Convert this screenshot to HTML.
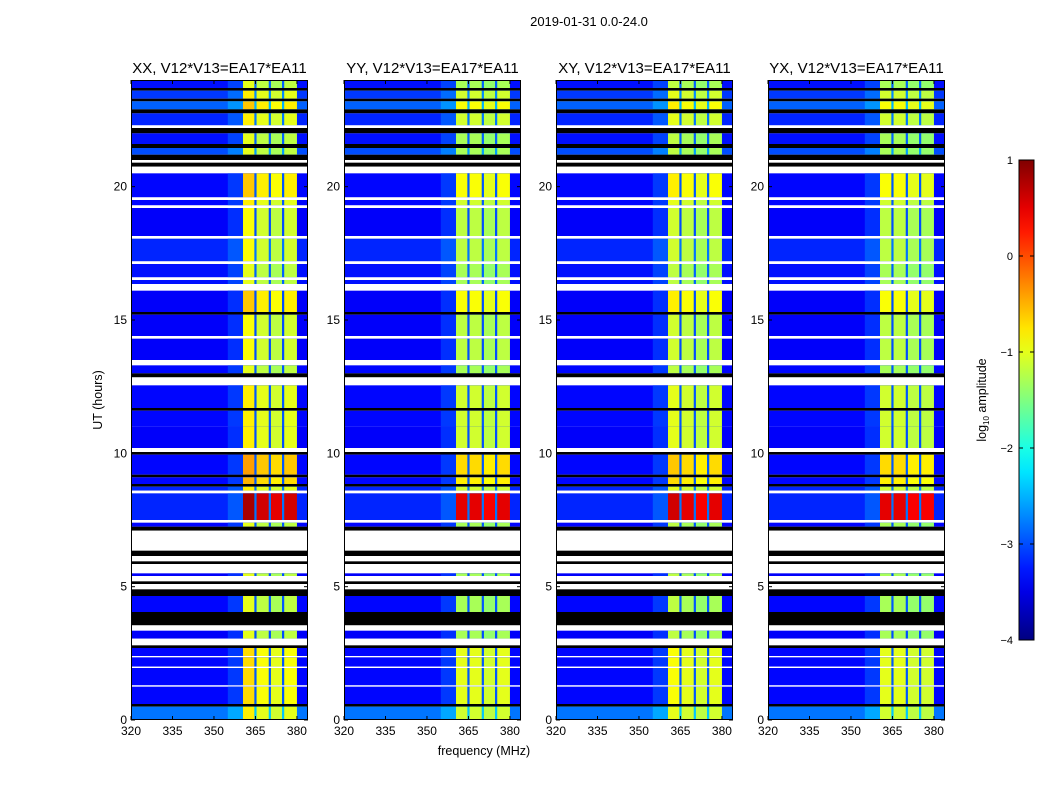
<!DOCTYPE html>
<html><head><meta charset="utf-8">
<style>
html,body{margin:0;padding:0;background:#fff;}
svg{display:block;font-family:"Liberation Sans","DejaVu Sans",sans-serif;}
</style></head>
<body>
<svg id="chart" width="1050" height="800" viewBox="0 0 1050 800" xmlns="http://www.w3.org/2000/svg">
<rect width="1050" height="800" fill="#fff"/>
<text x="589" y="26" font-size="13" text-anchor="middle">2019-01-31 0.0-24.0</text>
<text x="484" y="755" font-size="12.5" text-anchor="middle">frequency (MHz)</text>
<text x="102" y="400" font-size="12.5" text-anchor="middle" transform="rotate(-90 102 400)">UT (hours)</text>
<g id="panels"></g>
<g id="cbar"></g>
</svg>
<script>
const panelTitles = ["XX, V12*V13=EA17*EA11","YY, V12*V13=EA17*EA11","XY, V12*V13=EA17*EA11","YX, V12*V13=EA17*EA11"];
const xTicks = [320,335,350,365,380];
const yTicks = [0,5,10,15,20];
const cbarTicks = [1,0,-1,-2,-3,-4];
// RFI sub-bands (MHz)
const subBands = [[360.5,364.6],[365.4,369.8],[370.6,374.6],[375.4,380]];
// per-panel sub-band level offsets (log10)
const bandOffsetXX = [0,-0.2,-0.3,-0.2];
const bandOffsetYY = [-0.3,-0.3,-0.4,-0.3];
const bandOffsetXY = [-0.2,-0.3,-0.4,-0.3];
const bandOffsetYX = [-0.3,-0.3,-0.4,-0.4];
const panelOffsets = [bandOffsetXX,bandOffsetYY,bandOffsetXY,bandOffsetYX];
// time segments: [tStart, tEnd, kind (d=data,w=flagged white,b=zero black), background log10, band log10]
const segments = [
[23.7,24,'d',-3.3,-1.0],[23.6,23.7,'b'],[23.3,23.6,'d',-3.1,-0.8],[23.2,23.3,'b'],[22.9,23.2,'d',-2.9,-0.6],[22.75,22.9,'b'],[22.3,22.75,'d',-3.2,-0.8],[22.2,22.3,'w'],[22.0,22.2,'b'],[21.6,22.0,'d',-3.3,-1.0],[21.45,21.6,'b'],[21.2,21.45,'d',-3.0,-1],[21.0,21.2,'b'],[20.9,21.0,'w'],[20.75,20.9,'b'],[20.5,20.75,'w'],
[19.6,20.5,'d',-3.35,-0.6],[19.5,19.6,'w'],[19.3,19.5,'d',-3.35,-0.8],[19.2,19.3,'w'],[18.15,19.2,'d',-3.4,-0.9],[18.05,18.15,'w'],[17.2,18.05,'d',-3.2,-0.9],[17.1,17.2,'w'],[16.6,17.1,'d',-3.3,-1],[16.5,16.6,'w'],[16.35,16.5,'d',-3.3,-1],[16.1,16.35,'w'],[15.3,16.1,'d',-3.4,-0.6],[15.2,15.3,'b'],[14.4,15.2,'d',-3.4,-0.9],[14.3,14.4,'w'],[13.5,14.3,'d',-3.4,-0.9],[13.3,13.5,'w'],[13.0,13.3,'d',-3.35,-1],[12.85,13.0,'b'],[12.55,12.85,'w'],[11.7,12.55,'d',-3.35,-0.8],[11.6,11.7,'b'],[11.0,11.6,'d',-3.35,-0.8],[10.2,11.0,'d',-3.4,-0.8],[10.05,10.2,'w'],[9.95,10.05,'b'],[9.2,9.95,'d',-3.35,-0.4],[9.1,9.2,'b'],[8.85,9.1,'d',-3.35,-0.5],[8.75,8.85,'b'],[8.6,8.75,'d',-3.2,-0.8],[8.5,8.6,'w'],[7.5,8.5,'d',-3.2,0.8],[7.4,7.5,'w'],[7.25,7.4,'d',-3.35,-1],[7.1,7.25,'b'],[6.35,7.1,'w'],[6.15,6.35,'b'],[5.95,6.15,'w'],[5.85,5.95,'b'],[5.5,5.85,'w'],[5.4,5.5,'d',-3.4,-1],[5.2,5.4,'w'],[5.1,5.2,'b'],[4.9,5.1,'w'],[4.65,4.9,'b'],[4.05,4.65,'d',-3.35,-1],[3.55,4.05,'b'],[3.35,3.55,'w'],[3.05,3.35,'d',-3.4,-1],[2.8,3.05,'w'],[2.7,2.8,'b'],[2.4,2.7,'d',-3.35,-0.7],[2.35,2.4,'w'],[2.0,2.35,'d',-3.35,-0.7],[1.95,2.0,'w'],[1.3,1.95,'d',-3.35,-0.7],[1.25,1.3,'w'],[0.6,1.25,'d',-3.35,-0.7],[0.5,0.6,'b'],[0,0.5,'d',-2.8,-0.8]
];
const panelLefts = [131,344,556,768];

const NS = "http://www.w3.org/2000/svg";
function jet(v){ // v in log10, range -4..1
  let t = Math.max(0,Math.min(1,(v+4)/5));
  const f = x=>Math.max(0,Math.min(1,x));
  const r=f(1.5-Math.abs(4*t-3)), g=f(1.5-Math.abs(4*t-2)), b=f(1.5-Math.abs(4*t-1));
  return `rgb(${Math.round(r*255)},${Math.round(g*255)},${Math.round(b*255)})`;
}
function mk(tag, attrs, parent){
  const e=document.createElementNS(NS,tag);
  for(const k in attrs) e.setAttribute(k,attrs[k]);
  parent.appendChild(e); return e;
}
const PW=177, TOP=80, BOT=720;
const yScale = h => BOT - (h/24)*(BOT-TOP);
const panelsG = document.getElementById('panels');

panelLefts.forEach((L,pi)=>{
  const xScale = f => L + (f-320)/64*PW;
  const g = mk('g',{},panelsG);
  
  
  segments.forEach(s=>{
    const y0=yScale(s[1]), y1=yScale(s[0]);
    const kind=s[2];
    if(kind==='w'||kind==='b'){
      const r=mk('rect',{x:L,y:y0,width:PW,height:y1-y0,fill:kind==='w'?'#fff':'#000'},g);
      
      
      return;
    }
    const r=mk('rect',{x:L,y:y0,width:PW,height:y1-y0,fill:jet(s[3])},g);
    
    
    const sh=mk('rect',{x:xScale(355),y:y0,width:xScale(360.5)-xScale(355),height:y1-y0,fill:jet(s[3]+0.25)},g);
    
    
    const gp=mk('rect',{x:xScale(360.5),y:y0,width:xScale(380)-xScale(360.5),height:y1-y0,fill:jet(s[3]+0.4)},g);
    
    
    subBands.forEach((b,bi)=>{
      const c=mk('rect',{x:xScale(b[0]),y:y0,width:xScale(b[1])-xScale(b[0]),height:y1-y0,fill:jet(s[4]+panelOffsets[pi][bi])},g);
      
      
    });
  });
  const fr=mk('rect',{x:L+0.5,y:TOP+0.5,width:PW-1,height:BOT-TOP-1,fill:'none',stroke:'#000','stroke-width':1},g);
  
  
  const t=mk('text',{x:L+PW/2,y:73,'font-size':15,'text-anchor':'middle'},g);
  t.textContent=panelTitles[pi];
  
  
  xTicks.forEach(v=>{
    const x=xScale(v);
    mk('line',{x1:x,x2:x,y1:BOT,y2:BOT-4,stroke:'#000'},g);
    mk('line',{x1:x,x2:x,y1:TOP,y2:TOP+4,stroke:'#000'},g);
    const tx=mk('text',{x:x,y:BOT+15,'font-size':12,'text-anchor':'middle'},g);
    tx.textContent=v;
    
    
  });
  yTicks.forEach(v=>{
    const y=yScale(v);
    mk('line',{x1:L,x2:L+4,y1:y,y2:y,stroke:'#000'},g);
    mk('line',{x1:L+PW,x2:L+PW-4,y1:y,y2:y,stroke:'#000'},g);
    const ty=mk('text',{x:L-4,y:y+4,'font-size':12,'text-anchor':'end'},g);
    ty.textContent=v;
    
    
  });
});

// colorbar
const cb=document.getElementById('cbar');
const CX=1019, CW=15, CT=160, CB=640;
const cbScale = v => CB - (v+4)/5*(CB-CT);
const defs=mk('defs',{},cb);
const grad=mk('linearGradient',{id:'jetg',x1:0,y1:1,x2:0,y2:0},defs);
for(let i=0;i<=20;i++){ mk('stop',{offset:i/20,'stop-color':jet(-4+5*i/20)},grad); }
const cr=mk('rect',{x:CX,y:CT,width:CW,height:CB-CT,fill:'url(#jetg)',stroke:'#000','stroke-width':1},cb);


cbarTicks.forEach(v=>{
  const y=cbScale(v);
  mk('line',{x1:CX,x2:CX+4,y1:y,y2:y,stroke:'#000'},cb);
  mk('line',{x1:CX+CW,x2:CX+CW-4,y1:y,y2:y,stroke:'#000'},cb);
  const t=mk('text',{x:1013,y:y+4,'font-size':11,'text-anchor':'end'},cb);
  t.textContent = v<0 ? '\u2212'+Math.abs(v) : String(v);
  
  
});
const cl=mk('text',{x:986,y:400,'font-size':12.5,'text-anchor':'middle',transform:'rotate(-90 986 400)'},cb);
cl.innerHTML='log<tspan font-size="8" dy="3">10</tspan><tspan dy="-3"> amplitude</tspan>';


</script>
</body></html>
